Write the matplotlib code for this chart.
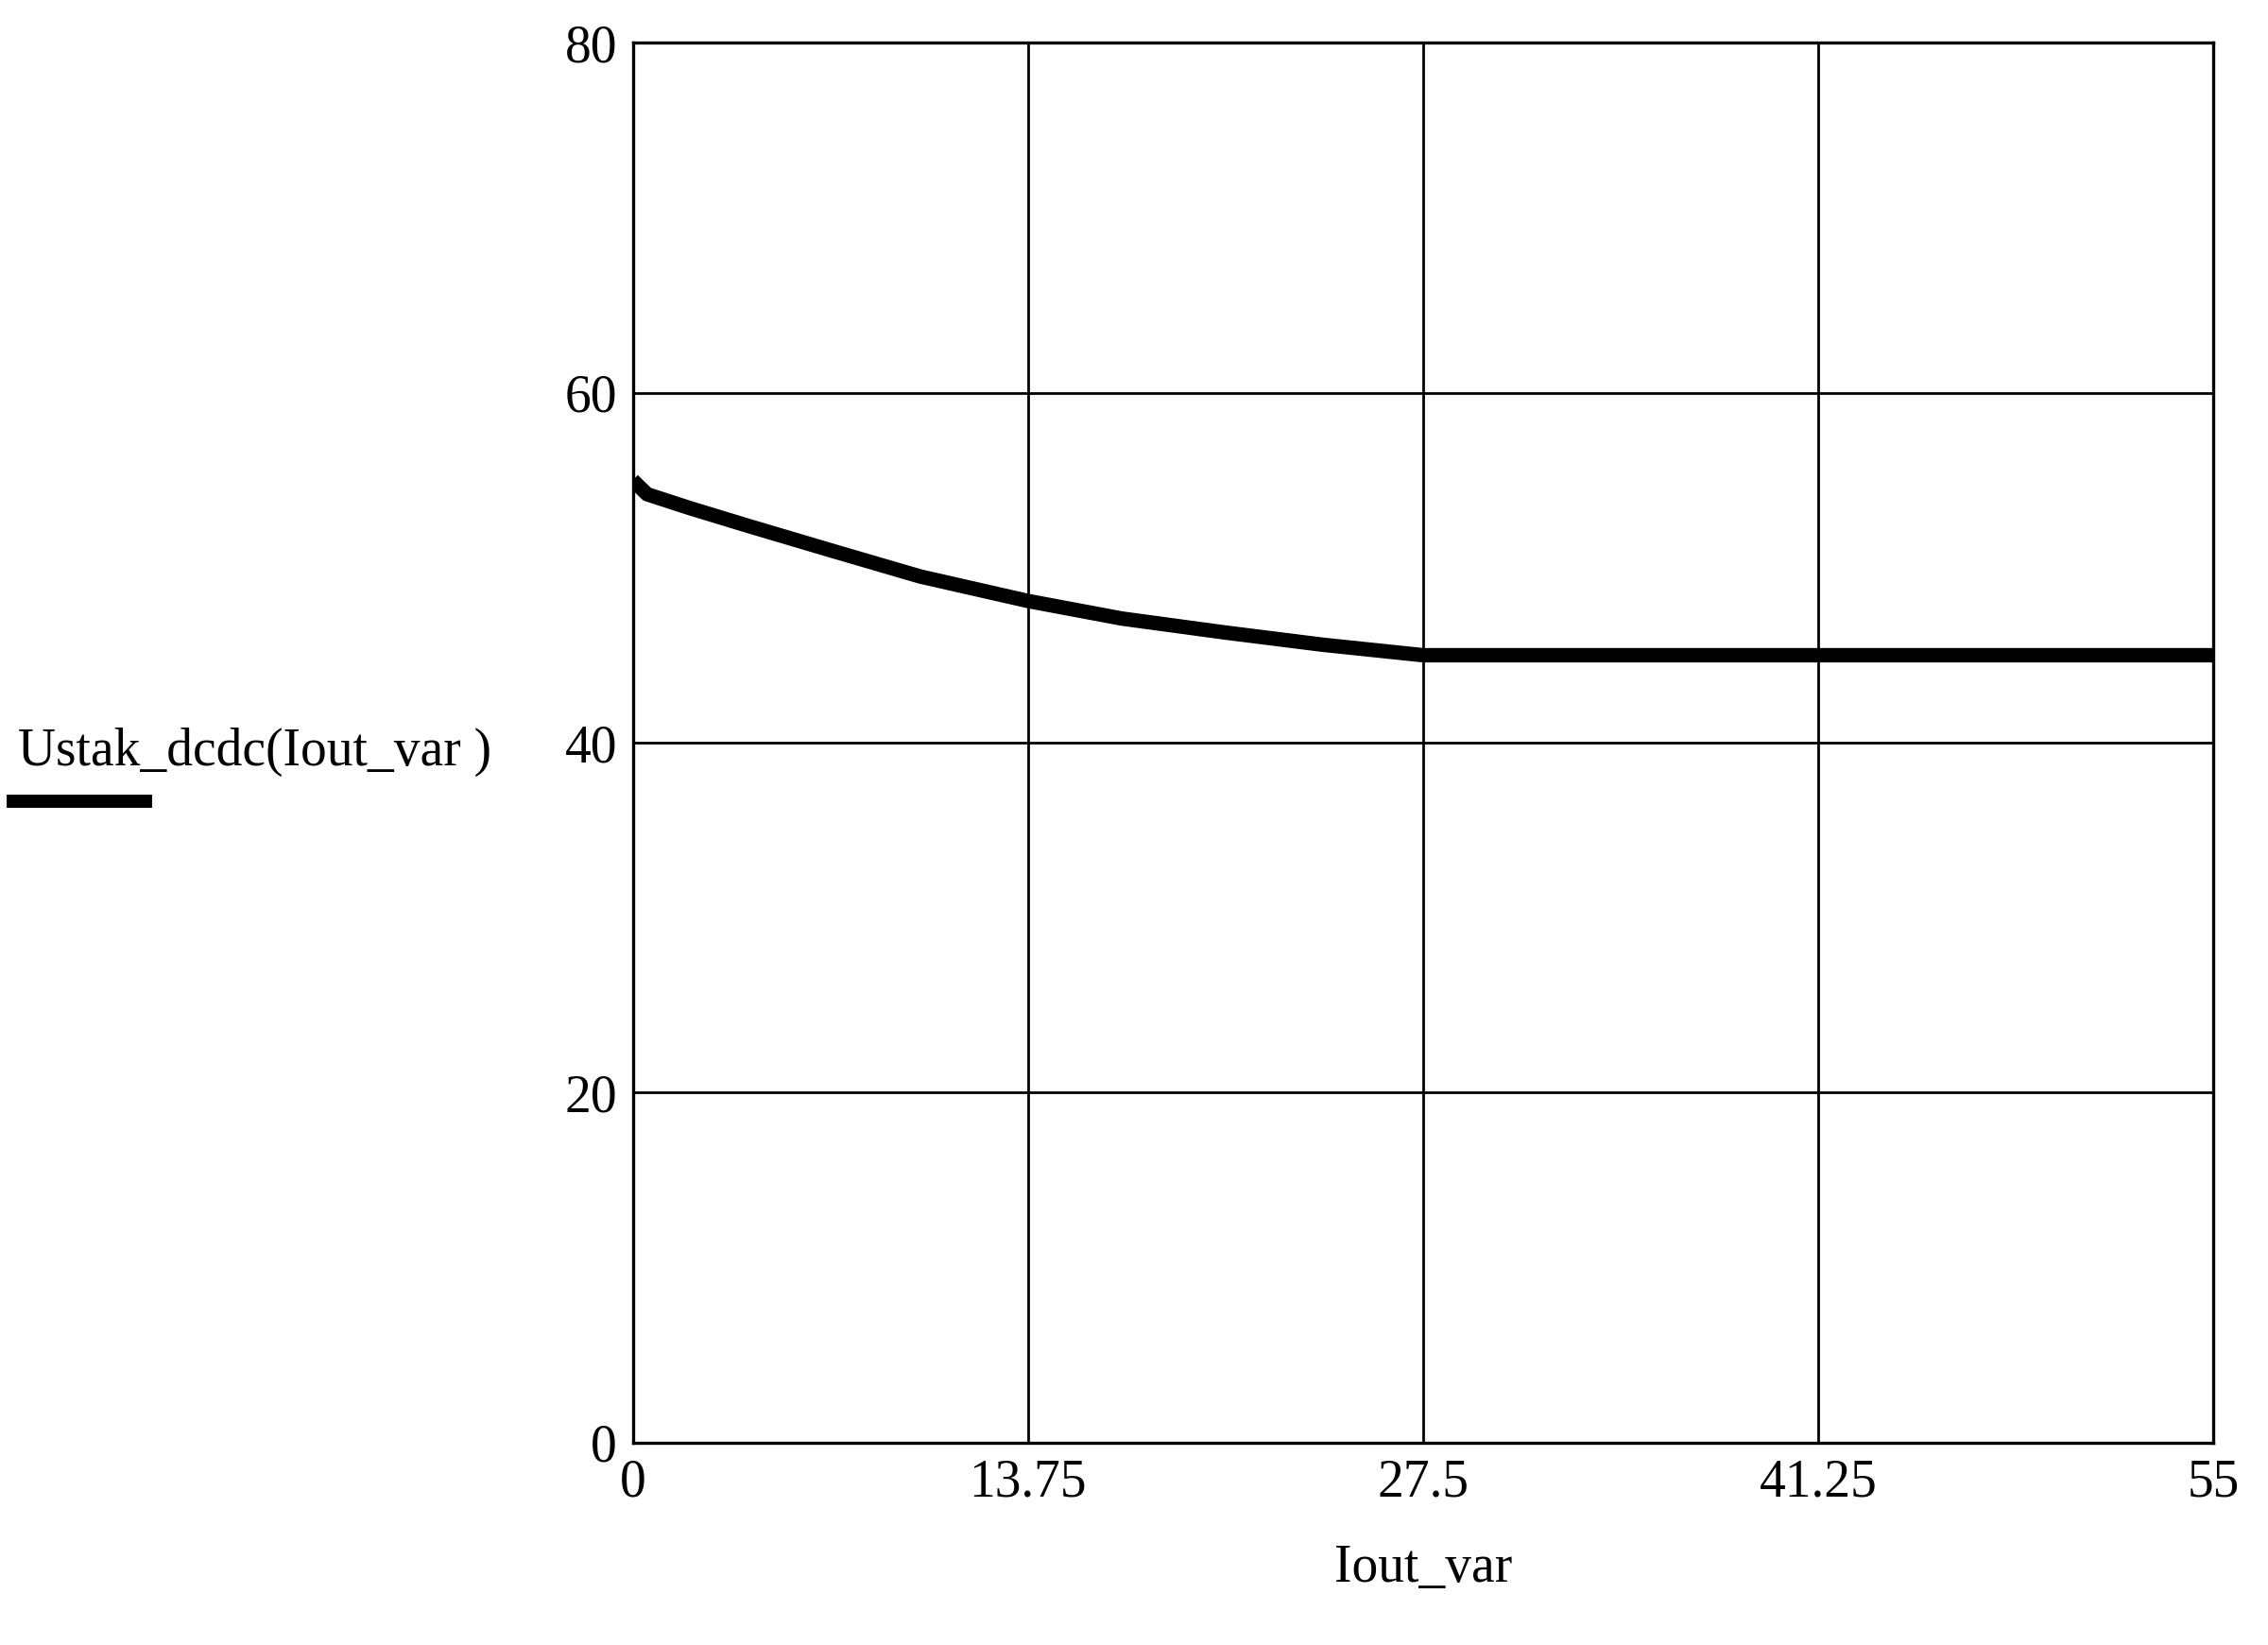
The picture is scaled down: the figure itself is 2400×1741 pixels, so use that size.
import matplotlib
matplotlib.use("Agg")
import matplotlib.pyplot as plt
from matplotlib.lines import Line2D

iout_var = [0, 0.5, 2, 4, 6.875, 10, 13.75, 17, 20.6, 24, 27.5, 35, 41.25, 48, 55]
ustak = [55.0, 54.2, 53.4, 52.4, 51.0, 49.5, 48.1, 47.1, 46.3, 45.6, 45.0, 45.0, 45.0, 45.0, 45.0]
xticks = [0, 13.75, 27.5, 41.25, 55]
xticklabels = ["0", "13.75", "27.5", "41.25", "55"]
yticks = [0, 20, 40, 60, 80]

plt.rcParams['font.family'] = ['Liberation Serif', 'DejaVu Serif']
fig = plt.figure(figsize=(12, 8.705), dpi=200)
ax = fig.add_axes([0.279, 0.123, 0.697, 0.851])
ax.plot(iout_var, ustak, color='black', lw=5.5, solid_capstyle='butt', solid_joinstyle='round')
ax.set_xlim(0, 55)
ax.set_ylim(0, 80)
ax.set_xticks(xticks)
ax.set_xticklabels(xticklabels)
ax.set_yticks(yticks)
ax.grid(True, color='black', lw=1.0)
ax.tick_params(length=0, labelsize=20, pad=6)
for s in ax.spines.values():
    s.set_linewidth(1.2)
ax.set_xlabel("Iout_var", fontsize=20, labelpad=14)
fig.text(0.008, 0.543, "Ustak_dcdc(Iout_var )", fontsize=20, ha='left', va='center')
fig.add_artist(Line2D([0.006, 0.064], [0.513, 0.513], color='black', lw=5, transform=fig.transFigure))
fig.savefig("out.png", dpi=200)
